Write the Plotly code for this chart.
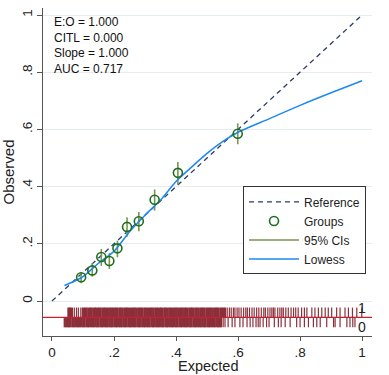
import plotly.graph_objects as go

# ---- data ----
group_x = [0.094, 0.130, 0.159, 0.185, 0.211, 0.242, 0.280, 0.331, 0.406, 0.599]
group_y = [0.083, 0.107, 0.154, 0.140, 0.184, 0.259, 0.279, 0.354, 0.448, 0.585]
ci_lo = [0.062, 0.085, 0.123, 0.112, 0.153, 0.225, 0.244, 0.316, 0.407, 0.548]
ci_hi = [0.100, 0.132, 0.182, 0.167, 0.211, 0.293, 0.311, 0.390, 0.486, 0.621]

lowess_x = [0.04, 0.07, 0.10, 0.15, 0.20, 0.25, 0.30, 0.35, 0.40, 0.45, 0.50, 0.55, 0.60,
            0.70, 0.80, 0.90, 1.00]
lowess_y = [0.054, 0.068, 0.085, 0.132, 0.174, 0.242, 0.300, 0.353, 0.418, 0.468, 0.516, 0.557, 0.590,
            0.637, 0.684, 0.728, 0.770]

ref_x = [0, 1]
ref_y = [0, 1]

# predicted risks of observed outcome = 1 (dense part and sparse part)
rug1_dense = [0.053, 0.057, 0.061, 0.103, 0.108, 0.112, 0.118, 0.123, 0.127, 0.133, 0.138, 0.142,
              0.148, 0.153, 0.157, 0.163, 0.168, 0.172, 0.177, 0.183, 0.188, 0.192, 0.197, 0.203,
              0.207, 0.212, 0.218, 0.222, 0.227, 0.233, 0.238, 0.242, 0.247, 0.252, 0.258, 0.263,
              0.267, 0.272, 0.278, 0.283, 0.287, 0.292, 0.298, 0.302, 0.307, 0.313, 0.318, 0.322,
              0.327, 0.333, 0.337, 0.342, 0.348, 0.352, 0.357, 0.363, 0.367, 0.372, 0.378, 0.382,
              0.387, 0.393, 0.398, 0.402, 0.407, 0.413, 0.418, 0.422, 0.428, 0.432, 0.437, 0.443,
              0.448, 0.452, 0.457, 0.463, 0.467, 0.472, 0.478, 0.483, 0.487, 0.492, 0.498, 0.503,
              0.508, 0.512, 0.517, 0.523, 0.528, 0.532, 0.537, 0.543, 0.548, 0.553, 0.558]
rug1_sparse = [0.066, 0.072, 0.079, 0.085, 0.093, 0.098,
               0.565, 0.572, 0.578, 0.585, 0.590, 0.597, 0.603, 0.610, 0.618, 0.625, 0.630,
               0.637, 0.645, 0.652, 0.660, 0.667, 0.675, 0.683, 0.688,
               0.696, 0.703, 0.709, 0.714, 0.719, 0.728, 0.735, 0.741, 0.746, 0.754, 0.762,
               0.771, 0.779, 0.786, 0.794, 0.805, 0.814, 0.822, 0.838, 0.848, 0.859, 0.870,
               0.881, 0.891, 0.902, 0.918, 0.929, 0.945, 0.956, 0.969, 0.983, 0.999]

# predicted risks of observed outcome = 0
rug0_dense = [0.041, 0.046, 0.051, 0.055, 0.060, 0.066, 0.070, 0.075, 0.081, 0.085, 0.090,
              0.096, 0.101, 0.105, 0.111, 0.116, 0.120, 0.126, 0.131, 0.135, 0.141, 0.146,
              0.150, 0.156, 0.161, 0.165, 0.171, 0.176, 0.180, 0.186, 0.191, 0.195, 0.201,
              0.206, 0.210, 0.216, 0.221, 0.225, 0.231, 0.236, 0.240, 0.246, 0.251, 0.255,
              0.261, 0.266, 0.270, 0.276, 0.281, 0.285, 0.291, 0.296, 0.300, 0.306, 0.311,
              0.315, 0.321, 0.326, 0.330, 0.336, 0.341, 0.345, 0.351, 0.356, 0.360, 0.366,
              0.371, 0.375, 0.381, 0.386, 0.390, 0.396, 0.401, 0.405, 0.411, 0.416, 0.420,
              0.426, 0.431, 0.435, 0.441, 0.446, 0.450, 0.456, 0.461, 0.465, 0.471, 0.476,
              0.480, 0.486, 0.491, 0.495, 0.501, 0.506, 0.510, 0.516, 0.521, 0.525, 0.531,
              0.536, 0.540, 0.545]
rug0_sparse = [0.552, 0.558, 0.568, 0.581, 0.590, 0.606, 0.616, 0.629, 0.639, 0.648, 0.658,
               0.665, 0.671, 0.681, 0.692, 0.700, 0.717, 0.730, 0.739, 0.752, 0.768, 0.789,
               0.800, 0.814, 0.827, 0.843, 0.854, 0.865, 0.886, 0.908, 0.913, 0.929, 0.951,
               0.961, 0.970, 0.977]

x_ticks = [0, 0.2, 0.4, 0.6, 0.8, 1]
x_labels = ["0", ".2", ".4", ".6", ".8", "1"]
y_ticks = [0, 0.2, 0.4, 0.6, 0.8, 1]
y_labels = ["0", ".2", ".4", ".6", ".8", "1"]
stats_text = ["E:O = 1.000", "CITL = 0.000", "Slope = 1.000", "AUC = 0.717"]
x_title = "Expected"
y_title = "Observed"

# ---- styling ----
FONT = "Liberation Sans, Arial, sans-serif"
RUG_COLOR = "#8c2f3a"
RUG_MID = -0.057
RUG_TOP = -0.023
RUG_BOT = -0.092


def spikes(vals, y0, y1):
    xs, ys = [], []
    for v in vals:
        xs += [v, v, None]
        ys += [y0, y1, None]
    return xs, ys


fig = go.Figure()

# rug spikes
for vals, y0, y1, w in [(rug1_dense, RUG_MID, RUG_TOP, 2.2), (rug1_sparse, RUG_MID, RUG_TOP, 1.2),
                        (rug0_dense, RUG_MID, RUG_BOT, 2.2), (rug0_sparse, RUG_MID, RUG_BOT, 1.2)]:
    xs, ys = spikes(vals, y0, y1)
    fig.add_trace(go.Scatter(x=xs, y=ys, mode="lines", line=dict(color=RUG_COLOR, width=w),
                             showlegend=False, hoverinfo="skip"))

# reference line
fig.add_trace(go.Scatter(x=ref_x, y=ref_y, mode="lines", name="Reference",
                         line=dict(color="#2b3a67", width=1.3, dash="5px,4px"), legendrank=1))

# CIs
cx, cy = [], []
for xv, lo, hi in zip(group_x, ci_lo, ci_hi):
    cx += [xv, xv, None]
    cy += [lo, hi, None]
fig.add_trace(go.Scatter(x=cx, y=cy, mode="lines", name="95% CIs",
                         line=dict(color="#7a9650", width=1.6), legendrank=3))

# lowess
fig.add_trace(go.Scatter(x=lowess_x, y=lowess_y, mode="lines", name="Lowess",
                         line=dict(color="#1e88f0", width=1.5, shape="spline", smoothing=0.8),
                         legendrank=4))

# groups
fig.add_trace(go.Scatter(x=group_x, y=group_y, mode="markers", name="Groups",
                         marker=dict(symbol="circle-open", size=9, color="#1f6e1f",
                                     line=dict(width=1.6, color="#1f6e1f")),
                         legendrank=2))

fig.add_shape(type="line", xref="paper", x0=0, x1=1, yref="y", y0=RUG_MID, y1=RUG_MID,
              line=dict(color="#c4202f", width=1.3), layer="above")

fig.add_annotation(x=0.0, y=1.006, xref="x", yref="y", xanchor="left", yanchor="top",
                   text="<br>".join(stats_text), showarrow=False, align="left",
                   font=dict(family=FONT, size=12, color="#111"))
fig.add_annotation(x=1.0, y=RUG_TOP, xref="x", yref="y", text="1", showarrow=False,
                   font=dict(family=FONT, size=14, color="#222"))
fig.add_annotation(x=1.0, y=RUG_BOT, xref="x", yref="y", text="0", showarrow=False,
                   font=dict(family=FONT, size=14, color="#222"))
# x-axis title
fig.add_annotation(x=0.5, y=-0.0915, xref="paper", yref="paper", text=x_title, showarrow=False,
                   xanchor="center", yanchor="middle",
                   font=dict(family=FONT, size=14.5, color="#222"))

fig.update_layout(
    width=389, height=375,
    margin=dict(l=43, r=17, t=8, b=39),
    paper_bgcolor="white", plot_bgcolor="white",
    font=dict(family=FONT, size=14, color="#222"),
    legend=dict(x=0.608, y=0.456, xanchor="left", yanchor="top",
                bordercolor="#333", borderwidth=1, bgcolor="white",
                font=dict(family=FONT, size=12, color="#222"), itemwidth=50,
                tracegroupgap=0),
)
fig.update_xaxes(range=[-0.029, 1.032], tickvals=x_ticks, ticktext=x_labels, automargin=False,
                 showgrid=False, zeroline=False, showline=True, linecolor="#555", linewidth=1,
                 ticks="outside", ticklen=4, tickcolor="#555", tickfont=dict(size=13.5))
fig.update_yaxes(range=[-0.1224, 1.0245], tickvals=y_ticks, ticktext=y_labels, tickangle=-90,
                 automargin=False,
                 showgrid=True, gridcolor="#e4ebf1", gridwidth=1, zeroline=False,
                 showline=True, linecolor="#555", linewidth=1,
                 ticks="outside", ticklen=5, tickcolor="#555", tickfont=dict(size=13.5),
                 title=dict(text=y_title, standoff=2, font=dict(size=15)))

fig.write_html("out.html", config={"displayModeBar": False},
               post_script="document.body.style.margin='0';document.body.style.padding='0';")
